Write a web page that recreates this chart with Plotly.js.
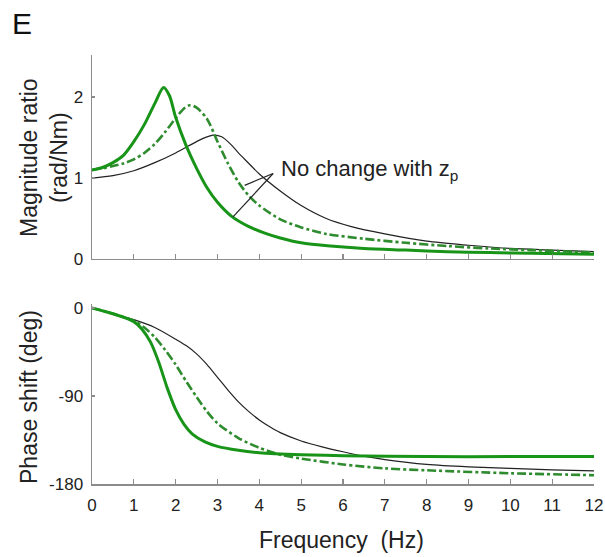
<!DOCTYPE html>
<html>
<head>
<meta charset="utf-8">
<script src="https://cdn.plot.ly/plotly-3.0.1.min.js"></script>
<style>html,body{margin:0;padding:0;background:#fff;}#chart{width:605px;height:557px;}</style>
</head>
<body>
<div id="chart"></div>
<script>
// ---- Data ----
const freqMagSolid = [0,0.25,0.5,0.75,1.0,1.25,1.5,1.71,1.85,2.0,2.25,2.5,2.75,3.0,3.33,3.75,4.13,4.5,5.0,5.7,6.5,7.5,8.5,9.5,10.5,12];
const magSolid     = [1.10,1.13,1.19,1.28,1.45,1.66,1.92,2.12,2.02,1.75,1.40,1.12,0.88,0.70,0.53,0.40,0.32,0.26,0.20,0.16,0.13,0.11,0.09,0.08,0.07,0.06];

const freqMagDash  = [0,0.25,0.5,0.75,1.0,1.25,1.5,1.75,2.0,2.2,2.34,2.5,2.75,3.0,3.25,3.5,3.75,4.0,4.5,5.0,5.6,6.5,7.5,8.5,9.5,10.5,12];
const magDash      = [1.10,1.12,1.15,1.18,1.23,1.31,1.42,1.57,1.74,1.86,1.90,1.87,1.73,1.45,1.18,0.95,0.78,0.66,0.49,0.39,0.31,0.25,0.20,0.16,0.13,0.11,0.08];

const freqMagBlack = [0,0.5,1.0,1.5,2.0,2.5,2.7,2.9,3.1,3.33,3.5,3.75,4.0,4.5,5.0,5.6,6.2,7.0,8.0,9.0,10.0,11.0,12];
const magBlack     = [1.00,1.03,1.09,1.19,1.31,1.45,1.50,1.53,1.51,1.41,1.31,1.18,1.05,0.84,0.66,0.50,0.40,0.31,0.22,0.17,0.13,0.11,0.09];

const freqPhSolid  = [0,0.5,1.0,1.2,1.4,1.6,1.8,2.0,2.2,2.4,2.7,3.0,3.5,4.0,5.0,6.0,8.0,10.0,12];
const phSolid      = [0,-6,-14,-22,-35,-56,-82,-104,-119,-129,-137,-141.5,-145.5,-148,-150,-151,-152,-152,-152];

const freqPhDash   = [0,0.5,1.0,1.25,1.5,1.75,2.0,2.25,2.5,2.75,3.0,3.5,4.0,4.5,5.0,6.0,7.0,8.0,10.0,12];
const phDash       = [0,-6,-13,-20,-30,-43,-58,-75,-91,-106,-118,-133,-143,-150,-154,-160,-164,-166,-169,-171];

const freqPhBlack  = [0,0.5,1.0,1.5,2.0,2.25,2.5,2.75,3.0,3.25,3.5,3.75,4.0,4.25,4.5,5.0,5.5,6.0,6.5,7.0,8.0,9.0,10.0,11.0,12];
const phBlack      = [0,-6,-12,-20,-32,-38.5,-47,-58,-71,-84,-96,-106,-114.5,-121.5,-127.5,-136,-142,-147,-151.5,-155,-160,-162.5,-164,-165.5,-166.5];

const xTickVals = [0,1,2,3,4,5,6,7,8,9,10,11,12];
const xTickText = ['0','1','2','3','4','5','6','7','8','9','10','11','12'];
const magTickVals = [0,1,2];
const magTickText = ['0','1','2'];
const phTickVals = [-180,-90,0];
const phTickText = ['-180','-90','0'];

// annotation pointer (data units)
const noteText = 'No change with z<sub>p</sub>';
const noteAt = [4.46, 1.10];
const pointerFrom = [4.33, 1.056];
const pointerTo = [[3.65, 0.91], [3.37, 0.52]];

// ---- Styles ----
const green = '#189418';
const greenDash = '#2e8b2e';
const black = '#222222';
const FONT = 'Arial, "Liberation Sans", sans-serif';
const axisGrey = '#8c8c8c';

const traces = [
  {x: freqMagBlack, y: magBlack, xaxis:'x', yaxis:'y', mode:'lines', line:{color:black, width:1.2, shape:'spline', smoothing:0.8}},
  {x: freqMagDash, y: magDash, xaxis:'x', yaxis:'y', mode:'lines', line:{color:greenDash, width:2.6, dash:'dashdot', shape:'spline', smoothing:0.8}},
  {x: freqMagSolid, y: magSolid, xaxis:'x', yaxis:'y', mode:'lines', line:{color:green, width:3, shape:'spline', smoothing:0.8}},
  {x: freqPhBlack, y: phBlack, xaxis:'x2', yaxis:'y2', mode:'lines', line:{color:black, width:1.2, shape:'spline', smoothing:0.8}},
  {x: freqPhDash, y: phDash, xaxis:'x2', yaxis:'y2', mode:'lines', line:{color:greenDash, width:2.6, dash:'dashdot', shape:'spline', smoothing:0.8}},
  {x: freqPhSolid, y: phSolid, xaxis:'x2', yaxis:'y2', mode:'lines', line:{color:green, width:3, shape:'spline', smoothing:0.8}}
];

const axisCommon = {
  showgrid:false, zeroline:false, showline:true, linecolor:axisGrey, linewidth:1.5,
  ticks:'inside', ticklen:5, tickcolor:axisGrey, tickwidth:1.2,
  tickfont:{family:FONT, size:17, color:'#222'}, fixedrange:true
};

const layout = {
  width:605, height:557,
  margin:{l:92, r:11, t:55, b:73},
  paper_bgcolor:'#fff', plot_bgcolor:'#fff',
  showlegend:false,
  font:{family:FONT, color:'#222'},
  xaxis: Object.assign({}, axisCommon, {domain:[0,1], anchor:'y', range:[0,12], tickvals:xTickVals, ticktext:xTickText, showticklabels:false}),
  yaxis: Object.assign({}, axisCommon, {domain:[0.5245,1], anchor:'x', range:[0,2.52], tickvals:magTickVals, ticktext:magTickText, ticklen:3, ticklabelstandoff:4}),
  xaxis2: Object.assign({}, axisCommon, {domain:[0,1], anchor:'y2', range:[0,12], tickvals:xTickVals, ticktext:xTickText, ticklabelstandoff:5}),
  yaxis2: Object.assign({}, axisCommon, {domain:[0,0.4196], anchor:'x2', range:[-180,4], tickvals:phTickVals, ticktext:phTickText, ticklen:3, ticklabelstandoff:4}),
  shapes: pointerTo.map(p => ({type:'line', xref:'x', yref:'y', x0:pointerFrom[0], y0:pointerFrom[1], x1:p[0], y1:p[1], line:{color:black, width:1.2}})),
  annotations: [
    {text:'E', xref:'paper', yref:'paper', x:(10-92)/502, y:(484-23)/429, xanchor:'left', yanchor:'middle', showarrow:false, font:{family:FONT, size:30, color:'#111'}},
    {text:'Magnitude ratio<br>(rad/Nm)', xref:'paper', yref:'paper', x:(44-92)/502, y:(484-158)/429, xanchor:'center', yanchor:'middle', textangle:-90, showarrow:false, font:{family:FONT, size:23, color:'#222'}},
    {text:'Phase shift (deg)', xref:'paper', yref:'paper', x:(29-92)/502, y:(484-397)/429, xanchor:'center', yanchor:'middle', textangle:-90, showarrow:false, font:{family:FONT, size:23, color:'#222'}},
    {text:'Frequency  (Hz)', xref:'paper', yref:'paper', x:(341-92)/502, y:(484-540)/429, xanchor:'center', yanchor:'middle', showarrow:false, font:{family:FONT, size:23, color:'#222'}},
    {text:noteText, xref:'x', yref:'y', x:noteAt[0], y:noteAt[1], xanchor:'left', yanchor:'middle', showarrow:false, font:{family:FONT, size:22, color:'#222'}}
  ]
};

Plotly.newPlot('chart', traces, layout, {staticPlot:true, displayModeBar:false});
</script>
</body>
</html>
